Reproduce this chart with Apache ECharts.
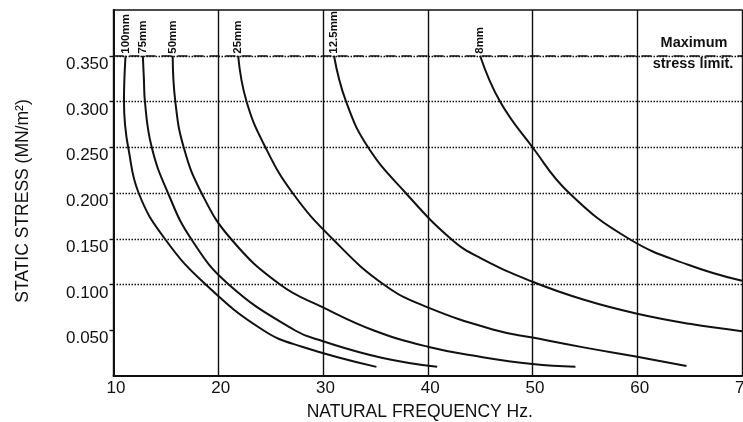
<!DOCTYPE html>
<html>
<head>
<meta charset="utf-8">
<script src="https://cdn.jsdelivr.net/npm/echarts@6/dist/echarts.min.js"></script>
<style>
html,body{margin:0;padding:0;background:#fff;}
#chart{width:743px;height:422px;}
</style>
</head>
<body>
<div id="chart"></div>
<script>
// ---- data ----
const CURVE_NAMES = ['100mm', '75mm', '50mm', '25mm', '12.5mm', '8mm'];

const FREQ_100   = [11.15, 11.0, 11.1, 11.4, 12.4, 14.9, 18.8, 24.3, 28.0, 35.1];
const STRESS_100 = [0.350, 0.300, 0.275, 0.250, 0.200, 0.150, 0.100, 0.050, 0.032, 0.010];

const FREQ_75    = [12.8, 12.9, 13.0, 13.65, 15.2, 17.4, 21.0, 27.3, 30.0, 35.6, 40.9];
const STRESS_75  = [0.350, 0.325, 0.300, 0.250, 0.200, 0.150, 0.100, 0.050, 0.038, 0.020, 0.010];

const FREQ_50    = [15.65, 15.9, 16.7, 18.4, 21.2, 25.9, 30.0, 34.8, 40.0, 45.0, 50.0, 54.1];
const STRESS_50  = [0.350, 0.300, 0.250, 0.200, 0.150, 0.100, 0.075, 0.050, 0.032, 0.021, 0.013, 0.010];

const FREQ_25    = [21.9, 22.7, 24.5, 27.1, 30.9, 35.8, 40.0, 46.5, 50.0, 55.0, 60.0, 64.7];
const STRESS_25  = [0.350, 0.300, 0.250, 0.200, 0.150, 0.100, 0.075, 0.050, 0.042, 0.031, 0.021, 0.011];

const FREQ_12_5   = [31.05, 32.2, 34.3, 37.9, 42.2, 45.0, 50.0, 55.0, 60.0, 65.0, 70.0];
const STRESS_12_5 = [0.350, 0.300, 0.250, 0.200, 0.150, 0.129, 0.103, 0.083, 0.068, 0.057, 0.049];

const FREQ_8     = [45.0, 46.9, 50.0, 53.5, 59.2, 65.0, 70.0];
const STRESS_8   = [0.350, 0.300, 0.250, 0.200, 0.150, 0.121, 0.104];

const X_TICKS = [10, 20, 30, 40, 50, 60, 70];
const Y_TICK_LABELS = ['0.050', '0.100', '0.150', '0.200', '0.250', '0.300', '0.350'];
const STRESS_LIMIT = 0.350;
const LIMIT_TEXT = ['Maximum', 'stress limit.'];
const X_TITLE = 'NATURAL FREQUENCY Hz.';
const Y_TITLE = 'STATIC STRESS (MN/m²)';

// ---- build ----
const FREQS = [FREQ_100, FREQ_75, FREQ_50, FREQ_25, FREQ_12_5, FREQ_8];
const STRESSES = [STRESS_100, STRESS_75, STRESS_50, STRESS_25, STRESS_12_5, STRESS_8];
const FONT = "'Liberation Sans', Arial, Helvetica, sans-serif";
const INK = '#111';
const Y_TICK_VALUES = Y_TICK_LABELS.map(parseFloat);

const series = CURVE_NAMES.map((name, i) => {
  const data = FREQS[i].map((f, j) => {
    const v = [f, STRESSES[i][j]];
    if (j === 0) {
      return {
        value: v,
        label: {
          show: true, formatter: name, position: 'top', rotate: 90,
          align: 'left', verticalAlign: 'middle', distance: 2,
          fontFamily: FONT, fontSize: 11.5, fontWeight: 'bold', color: INK
        }
      };
    }
    return v;
  });
  const s = {
    name: name, type: 'line', data: data, smooth: 0.45,
    showSymbol: true, symbol: 'circle', symbolSize: 0, silent: true,
    itemStyle: { color: INK },
    label: { show: false },
    lineStyle: { color: INK, width: 2 }, z: 5
  };
  if (i === 0) {
    s.markLine = {
      silent: true, symbol: 'none', animation: false,
      lineStyle: { color: INK, width: 1.6, type: [10, 6] },
      label: { show: false },
      data: [{ yAxis: STRESS_LIMIT }]
    };
  }
  return s;
});

const option = {
  animation: false,
  backgroundColor: '#fff',
  grid: { left: 113.5, right: 1, top: 10, bottom: 46, containLabel: false, outerBoundsMode: 'none' },
  xAxis: [{
    type: 'value', min: X_TICKS[0], max: X_TICKS[X_TICKS.length - 1], interval: 10,
    name: X_TITLE, nameLocation: 'middle', nameGap: 27,
    nameTextStyle: { fontFamily: FONT, fontSize: 17.5, color: INK, padding: [0, 16, 0, 0] },
    axisLine: { show: true, lineStyle: { color: INK, width: 2 } },
    axisTick: { show: false },
    axisLabel: { fontFamily: FONT, fontSize: 17, color: INK, margin: 4, padding: [0, 0, 0, 5] },
    splitLine: { show: true, lineStyle: { color: INK, width: 1.4, type: 'solid' } }
  }, {
    type: 'value', position: 'top', min: X_TICKS[0], max: X_TICKS[X_TICKS.length - 1], interval: 10,
    axisLine: { show: true, onZero: false, lineStyle: { color: INK, width: 1.6 } },
    axisTick: { show: false }, axisLabel: { show: false }, splitLine: { show: false }
  }],
  yAxis: {
    type: 'value', min: 0, max: 0.4, interval: 0.05,
    name: Y_TITLE, nameLocation: 'middle', nameRotate: 90, nameGap: 81,
    nameTextStyle: { fontFamily: FONT, fontSize: 17.5, color: INK, padding: [0, 16, 0, 0] },
    axisLine: { show: true, lineStyle: { color: INK, width: 2 } },
    axisTick: { show: true, length: 4, customValues: Y_TICK_VALUES, lineStyle: { color: INK, width: 1.4 } },
    axisLabel: {
      fontFamily: FONT, fontSize: 17, color: INK, margin: 5, verticalAlign: 'top',
      customValues: Y_TICK_VALUES,
      formatter: v => Y_TICK_LABELS[Y_TICK_VALUES.indexOf(v)] || v.toFixed(3)
    },
    splitLine: {
      show: true,
      lineStyle: {
        width: 1.4, type: [1.5, 1.5],
        color: ['rgba(0,0,0,0)', INK, INK, INK, INK, INK, INK, 'rgba(0,0,0,0)', 'rgba(0,0,0,0)']
      }
    }
  },
  graphic: [
    { type: 'text', x: 694, y: 43, silent: true,
      style: { text: LIMIT_TEXT[0], font: "bold 14.5px 'Liberation Sans', Arial, sans-serif",
               fill: INK, align: 'center', verticalAlign: 'middle' } },
    { type: 'text', x: 693, y: 64, silent: true,
      style: { text: LIMIT_TEXT[1], font: "bold 14.5px 'Liberation Sans', Arial, sans-serif",
               fill: INK, align: 'center', verticalAlign: 'middle' } }
  ],
  series: series
};

const chart = echarts.init(document.getElementById('chart'), null, { renderer: 'canvas' });
chart.setOption(option);
</script>
</body>
</html>
